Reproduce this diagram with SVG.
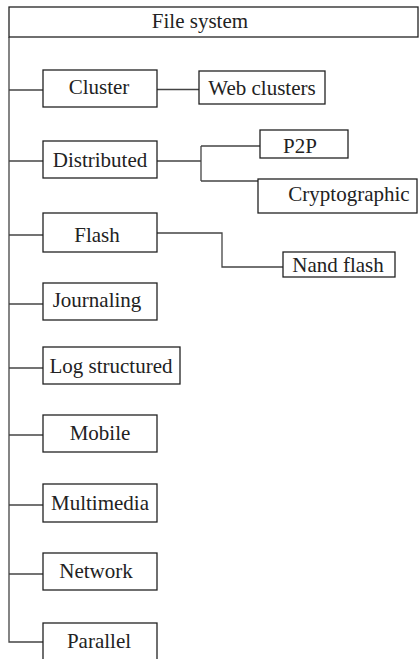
<svg xmlns="http://www.w3.org/2000/svg" width="419" height="659" viewBox="0 0 419 659">
<style>
.box{fill:#fff;stroke:#222;stroke-width:1.3}
.lbl{font-family:"Liberation Serif","Times New Roman",serif;font-size:21px;fill:#222;text-anchor:middle}
.con{fill:none;stroke:#444;stroke-width:1.3}
</style>
<rect width="419" height="659" fill="#fff"/>
<g id="connectors">
<path class="con" d="M9,37 V642 H43"/>
<path class="con" d="M9,90 H43"/>
<path class="con" d="M9,161 H43"/>
<path class="con" d="M9,235 H43"/>
<path class="con" d="M9,304 H43"/>
<path class="con" d="M9,368 H43"/>
<path class="con" d="M9,435 H43"/>
<path class="con" d="M9,505 H43"/>
<path class="con" d="M9,574 H43"/>
<path class="con" d="M157,89.5 H199"/>
<path class="con" d="M157,161 H201 M201,146 V181 M201,146 H260 M201,181 H258"/>
<path class="con" d="M157,233 H222 V267 H283"/>
</g>
<g id="root"><rect class="box" x="9" y="7" width="409" height="30"/><text class="lbl" x="200" y="28">File system</text></g>
<g id="cluster"><rect class="box" x="43" y="70" width="114" height="37"/><text class="lbl" x="99" y="94">Cluster</text></g>
<g id="webclusters"><rect class="box" x="199" y="71" width="126" height="33"/><text class="lbl" x="262" y="95">Web clusters</text></g>
<g id="distributed"><rect class="box" x="43" y="141" width="114" height="37"/><text class="lbl" x="100" y="167">Distributed</text></g>
<g id="p2p"><rect class="box" x="260" y="130" width="88" height="28"/><text class="lbl" x="300" y="153">P2P</text></g>
<g id="cryptographic"><rect class="box" x="258" y="179" width="159" height="34"/><text class="lbl" x="349" y="201">Cryptographic</text></g>
<g id="flash"><rect class="box" x="43" y="213" width="114" height="39"/><text class="lbl" x="97" y="242">Flash</text></g>
<g id="nandflash"><rect class="box" x="283" y="252" width="112" height="25"/><text class="lbl" x="338" y="272">Nand flash</text></g>
<g id="journaling"><rect class="box" x="43" y="283" width="114" height="37"/><text class="lbl" x="97" y="307">Journaling</text></g>
<g id="logstructured"><rect class="box" x="43" y="347" width="137" height="37"/><text class="lbl" x="111" y="373">Log structured</text></g>
<g id="mobile"><rect class="box" x="43" y="415" width="114" height="37"/><text class="lbl" x="100" y="440">Mobile</text></g>
<g id="multimedia"><rect class="box" x="43" y="484" width="114" height="38"/><text class="lbl" x="100" y="510">Multimedia</text></g>
<g id="network"><rect class="box" x="43" y="553" width="114" height="37"/><text class="lbl" x="96" y="578">Network</text></g>
<g id="parallel"><rect class="box" x="43" y="623" width="114" height="45"/><text class="lbl" x="99" y="648">Parallel</text></g>
</svg>
